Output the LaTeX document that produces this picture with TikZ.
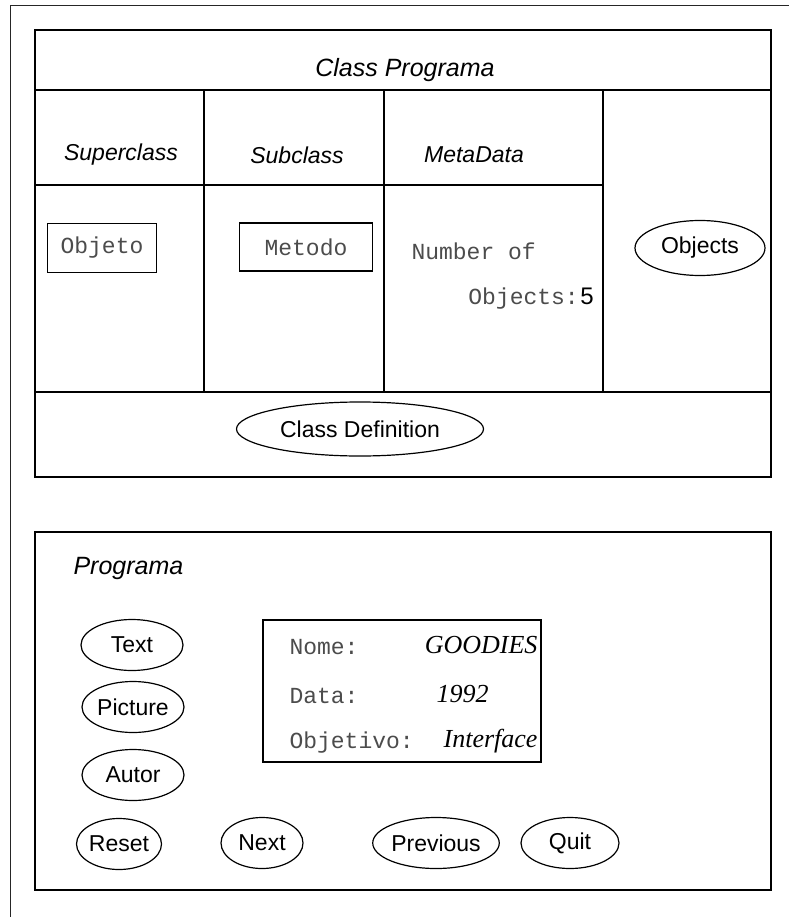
\documentclass[tikz,border=0pt]{standalone}
\usepackage{fontspec}
\setmainfont{Liberation Sans}
\newfontfamily\monofont{Liberation Mono}
\newfontfamily\seriffont{Liberation Serif}
\usetikzlibrary{shapes.geometric}
\begin{document}
\begin{tikzpicture}[x=1pt,y=-1pt,
  line/.style={draw=black,line width=1.2pt},
  hdr/.style={font=\fontsize{25}{28}\selectfont\itshape},
  colhdr/.style={font=\fontsize{23}{26}\selectfont\itshape},
  btn/.style={ellipse,draw=black,line width=1.2pt,inner sep=0pt,font=\fontsize{23}{26}\selectfont},
  mono/.style={font=\monofont\fontsize{23}{26}\selectfont,text=black!70},
  val/.style={font=\seriffont\itshape\fontsize{26}{29}\selectfont},
  tbox/.style={draw=black,line width=1.2pt,inner sep=0pt}]
\useasboundingbox (0,0) rectangle (789,917);
\fill[white] (0,0) rectangle (789,917);
% outer frame
\draw[line width=1pt,black!85] (10,917) -- (10,6) -- (789,6);
% top box
\draw[line] (35,30) rectangle (771,477);
\draw[line] (35,90) -- (771,90);
\draw[line] (35,185) -- (603,185);
\draw[line] (35,392) -- (771,392);
\draw[line] (204,90) -- (204,392);
\draw[line] (384,90) -- (384,392);
\draw[line] (603,90) -- (603,392);
\node[hdr] (title) at (405,70) {Class Programa};
\node[colhdr] (sup) at (121,155) {Superclass};
\node[colhdr] (sub) at (297,155) {Subclass};
\node[colhdr] (meta) at (474,155) {MetaData};
\node[tbox,minimum width=109,minimum height=49,mono] (objeto) at (102,248) {Objeto};
\node[tbox,minimum width=133,minimum height=48,mono] (metodo) at (306,247) {Metodo};
\node[mono,anchor=west] (numof) at (408,251) {Number of};
\node[anchor=east,inner sep=0pt] (objs) at (594,299) {{\monofont\fontsize{23}{26}\selectfont\color{black!70}Objects:}\,{\fontsize{24}{27}\selectfont 5}};
\node[btn,minimum width=130,minimum height=55] (objects) at (700,248) {Objects};
\node[btn,minimum width=247,minimum height=54] (classdef) at (360,429) {Class Definition};
% bottom box
\draw[line] (35,532) rectangle (771,890);
\node[hdr,anchor=west] (prog) at (70,568) {Programa};
\node[btn,minimum width=102,minimum height=51] (text) at (132,645) {Text};
\node[btn,minimum width=102,minimum height=51] (picture) at (133,707) {Picture};
\node[btn,minimum width=102,minimum height=51] (autor) at (133,775) {Autor};
\draw[line] (263,620) rectangle (541,762);
\node[mono,anchor=west] (nome) at (286,647) {Nome:};
\node[val,anchor=east] (goodies) at (541,645) {GOODIES};
\node[mono,anchor=west] (data) at (286,696) {Data:};
\node[val,anchor=west] (year) at (433,694) {1992};
\node[mono,anchor=west] (obj) at (286,743) {Objetivo:};
\node[val,anchor=east] (iface) at (541,741) {Interface};
\node[btn,minimum width=82,minimum height=51] (reset) at (119,844) {Reset};
\node[btn,minimum width=82,minimum height=51] (next) at (262,843) {Next};
\node[btn,minimum width=102,minimum height=51] (prev) at (436,843) {Previous};
\node[btn,minimum width=98,minimum height=51] (quit) at (570,843) {Quit};
\end{tikzpicture}
\end{document}
